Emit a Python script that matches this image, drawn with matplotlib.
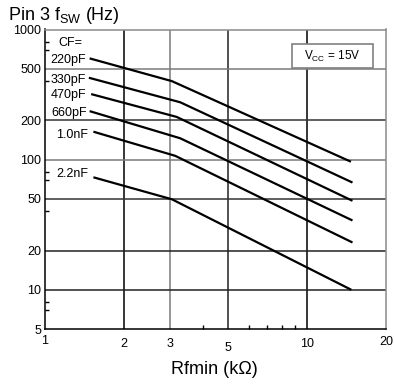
import matplotlib
matplotlib.use('Agg')
import matplotlib.pyplot as plt
from matplotlib.patches import Rectangle

plt.rcParams['font.family'] = ['Liberation Sans', 'DejaVu Sans']
plt.rcParams['mathtext.fontset'] = 'custom'
plt.rcParams['mathtext.rm'] = 'Liberation Sans'
plt.rcParams['mathtext.it'] = 'Liberation Sans'

# Rfmin (kOhm) / fSW (Hz) at start, knee and end of each CF curve
cf_labels = ['220pF', '330pF', '470pF', '660pF', '1.0nF', '2.2nF']
rf_points = [
    [1.48, 3.05, 14.7],
    [1.47, 3.28, 14.9],
    [1.50, 3.18, 14.9],
    [1.48, 3.28, 14.9],
    [1.53, 3.14, 14.9],
    [1.53, 3.05, 14.75],
]
fsw_points = [
    [600, 401, 96.4],
    [426, 276, 66.7],
    [319, 213, 48.3],
    [236, 146, 34.1],
    [164, 107, 23.1],
    [73.2, 49.6, 10.0],
]

x_ticks = [1, 2, 3, 5, 10, 20]
x_minor = [4, 6, 7, 8, 9]
y_ticks = [5, 10, 20, 50, 100, 200, 500, 1000]
y_minor = [7, 8, 40, 70, 80, 400, 700, 800]

W, H = 394, 385
fig = plt.figure(figsize=(W / 100, H / 100), dpi=100)
ax = fig.add_axes([45 / W, 1 - 329 / H, 341 / W, 299.5 / H])
ax.set_xscale('log')
ax.set_yscale('log')
ax.set_xlim(1, 20)
ax.set_ylim(5, 1000)


def px(x, y):
    return x / W, 1 - y / H


# grid lines (some print darker than others)
grid_x = {2: 'black', 3: '#7a7a7a', 5: '#222222', 10: 'black'}
grid_y = {10: '#222222', 20: '#222222', 50: '#333333', 100: '#7a7a7a',
          200: '#333333', 500: '#7a7a7a'}
for gx, c in grid_x.items():
    ax.axvline(gx, color=c, lw=1.1, zorder=1)
for gy, c in grid_y.items():
    ax.axhline(gy, color=c, lw=1.1, zorder=1)

for xs, ys in zip(rf_points, fsw_points):
    ax.plot(xs, ys, color='black', lw=1.6, zorder=3, solid_capstyle='butt')

ax.spines['top'].set_color('#8a8a8a')
ax.spines['right'].set_color('#8a8a8a')
for s in ax.spines.values():
    s.set_linewidth(1.1)

ax.set_yticks(y_ticks)
ax.set_yticklabels([str(v) for v in y_ticks], fontsize=9)
ax.set_yticks(y_minor, minor=True)
ax.set_xticks(x_ticks)
ax.set_xticklabels([])
ax.set_xticks(x_minor, minor=True)
ax.set_xticklabels([], minor=True)
ax.set_yticklabels([], minor=True)
ax.tick_params(which='major', length=0, pad=2.5)
ax.tick_params(which='minor', direction='in', length=3, width=1.0)
ax.tick_params(axis='x', which='minor', top=False)
ax.tick_params(axis='y', which='minor', right=False)

# x tick labels sit at slightly uneven heights
x_label_offsets = [12, 15, 15, 19, 15, 13]
for v, off in zip(x_ticks, x_label_offsets):
    ax.text(v, -off / 299.5, str(v), transform=ax.get_xaxis_transform(),
            ha='center', va='center', fontsize=9)

# curve labels
label_pos = [(86, 63.3), (86, 83.3), (86.7, 97.7), (87, 116), (87.7, 138.3), (88, 176.7)]
for lab, (lx, ly) in zip(cf_labels, label_pos):
    fig.text(*px(lx, ly), lab, ha='right', va='baseline', fontsize=9)
fig.text(*px(58, 46), 'CF=', ha='left', va='baseline', fontsize=9)

# supply voltage box
fig.patches.append(Rectangle(px(291.7, 68.3), 81.6 / W, 24 / H,
                             transform=fig.transFigure, fill=True,
                             facecolor='white', edgecolor='#808080', lw=1.2,
                             zorder=5))
fig.text(*px(332.5, 60), r'V$_{\mathrm{CC}}$ = 15V', ha='center', va='baseline',
         fontsize=8.5, zorder=6)

fig.text(*px(8, 20), r'Pin 3 f$_{\mathrm{SW}}$ (Hz)', ha='left', va='baseline', fontsize=13)
fig.text(*px(214.5, 374), 'Rfmin (k\u03a9)', ha='center', va='baseline', fontsize=13)

fig.savefig('out.png', dpi=100)
